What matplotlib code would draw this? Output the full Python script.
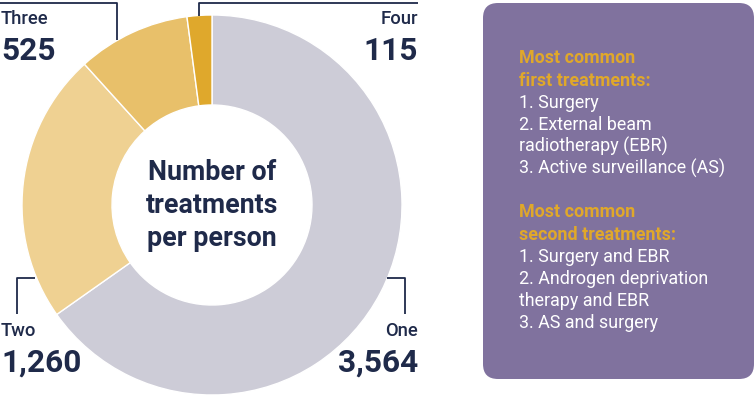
import matplotlib
matplotlib.use("Agg")
import matplotlib.pyplot as plt
from matplotlib.patches import FancyBboxPatch

plt.rcParams['font.family'] = ['Roboto', 'DejaVu Sans']

# data
labels = ["One", "Two", "Three", "Four"]
counts = [3564, 1260, 525, 115]
colors = ["#cdccd7", "#efd192", "#e8c06a", "#dfa82c"]

first_items = ["1. Surgery", "2. External beam", "radiotherapy (EBR)", "3. Active surveillance (AS)"]
second_items = ["1. Surgery and EBR", "2. Androgen deprivation", "therapy and EBR", "3. AS and surgery"]

NAVY = "#1f2a4a"
GOLD = "#e0a82a"
BOX = "#80729e"

W, H = 756, 399
fig = plt.figure(figsize=(W / 100, H / 100), dpi=100)
ax = fig.add_axes([0, 0, 1, 1])

def Y(y):
    return H - y  # image pixel y -> axes y

cx, cy, R, r_in = 212, 205, 190, 100
ax.pie(counts, colors=colors, startangle=90, counterclock=False,
       center=(cx, Y(cy)), radius=R,
       wedgeprops=dict(width=R - r_in, edgecolor="white", linewidth=1.0))
ax.set_xlim(0, W)
ax.set_ylim(0, H)
ax.set_aspect("equal")
ax.axis("off")

# centre text
for txt, yb in zip(["Number of", "treatments", "per person"], [180, 213, 246]):
    ax.text(cx, Y(yb), txt, ha="center", va="baseline", fontsize=19.3,
            fontweight="bold", color=NAVY)

# leader lines
lw = 1.3
ax.plot([0, 117, 117], [Y(3), Y(3), Y(40)], color=NAVY, lw=lw, solid_capstyle="butt")
ax.plot([199, 199, 418], [Y(16), Y(3), Y(3)], color=NAVY, lw=lw, solid_capstyle="butt")
ax.plot([35, 17, 17], [Y(278), Y(278), Y(314)], color=NAVY, lw=lw, solid_capstyle="butt")
ax.plot([387, 405, 405], [Y(278), Y(278), Y(314)], color=NAVY, lw=lw, solid_capstyle="butt")

# labels
def lab(x, yname, yval, name, val, ha):
    ax.text(x, Y(yname), name, ha=ha, va="baseline", fontsize=13.3, color=NAVY,
            fontweight="medium")
    ax.text(x, Y(yval), f"{val:,}", ha=ha, va="baseline", fontsize=22.8,
            fontweight="bold", color=NAVY)

lab(1, 24, 60, labels[2], counts[2], "left")
lab(418, 24, 60, labels[3], counts[3], "right")
lab(1, 336, 372, labels[1], counts[1], "left")
lab(418, 336, 372, labels[0], counts[0], "right")

# side box
box = FancyBboxPatch((483 + 15, Y(379) + 15), 754 - 483 - 30, 379 - 3 - 30,
                     boxstyle="round,pad=15", facecolor=BOX, edgecolor="none")
ax.add_patch(box)

fs = 12.9
tx = 519
ax.text(tx, Y(63), "Most common", fontsize=fs, fontweight="bold", color=GOLD, va="baseline")
ax.text(tx, Y(86), "first treatments:", fontsize=fs, fontweight="bold", color=GOLD, va="baseline")
for i, t in enumerate(first_items):
    ax.text(tx, Y(108 + 22 * i), t, fontsize=fs, color="white", va="baseline")

ax.text(tx, Y(217), "Most common", fontsize=fs, fontweight="bold", color=GOLD, va="baseline")
ax.text(tx, Y(240), "second treatments:", fontsize=fs, fontweight="bold", color=GOLD, va="baseline")
for i, t in enumerate(second_items):
    ax.text(tx, Y(262 + 22 * i), t, fontsize=fs, color="white", va="baseline")

fig.savefig("out.png", dpi=100)
